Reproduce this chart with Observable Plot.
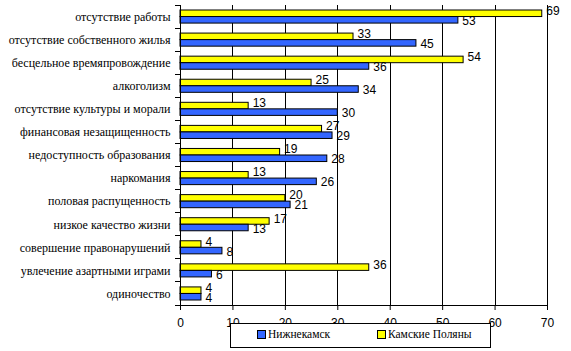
<!DOCTYPE html>
<html><head><meta charset="utf-8">
<script src="https://cdn.jsdelivr.net/npm/d3@7"></script>
<script src="https://cdn.jsdelivr.net/npm/@observablehq/plot@0.6"></script>
<style>
body{margin:0;background:#fff;}
#wrap{position:relative;width:571px;height:351px;overflow:hidden;}
#legend{position:absolute;left:230px;top:323px;width:261px;height:25px;border:1px solid #000;box-sizing:border-box;background:#fff;font:11.5px "Liberation Serif","Times New Roman",serif;color:#000;}
#legend .item{position:absolute;top:4px;display:flex;align-items:center;}
#legend .sw{width:7px;height:7px;border:1px solid #000;margin-right:2px;}
</style></head><body><div id="wrap"></div>
<script>
const categories = [
  "отсутствие работы",
  "отсутствие собственного жилья",
  "бесцельное времяпровождение",
  "алкоголизм",
  "отсутствие культуры и морали",
  "финансовая незащищенность",
  "недоступность образования",
  "наркомания",
  "половая распущенность",
  "низкое качество жизни",
  "совершение правонарушений",
  "увлечение азартными играми",
  "одиночество"
];
const nizhnekamsk = [53, 45, 36, 34, 30, 29, 28, 26, 21, 13, 8, 6, 4];
const kamskiePolyany = [69, 33, 54, 25, 13, 27, 19, 13, 20, 17, 4, 36, 4];
const seriesNames = ["Нижнекамск", "Камские Поляны"];
const seriesColors = ["#3366ff", "#ffff00"];
const xTicks = [0, 10, 20, 30, 40, 50, 60, 70];

const rows = categories.map((c, i) => ({category: c, nizh: nizhnekamsk[i], kam: kamskiePolyany[i]}));

const W = 571, H = 330, mT = 5, mB = 25, mL = 180, mR = 24;
const bw = (H - mT - mB) / categories.length;
const numFont = "'Liberation Sans',Arial,sans-serif";
const serifFont = "'Liberation Serif','Times New Roman',serif";

function axesLines(index, scales, values, dims) {
  const x = scales.x, y = scales.y;
  const step = y(categories[1]) - y(categories[0]);
  const top = y(categories[0]);
  const x0 = x(0);
  const g = d3.create("svg:g").attr("stroke", "#000").attr("stroke-width", 1).attr("shape-rendering", "crispEdges");
  const bottom = top + step * categories.length;
  g.append("line").attr("x1", x0).attr("x2", x0).attr("y1", top).attr("y2", bottom);
  g.append("line").attr("x1", x0).attr("x2", x(xTicks[xTicks.length - 1])).attr("y1", bottom).attr("y2", bottom);
  for (let i = 0; i <= categories.length; i++) {
    const yy = top + i * step;
    g.append("line").attr("x1", x0 - 5).attr("x2", x0).attr("y1", yy).attr("y2", yy);
  }
  return g.node();
}

const chart = Plot.plot({
  width: W, height: H,
  marginTop: mT, marginBottom: mB, marginLeft: mL, marginRight: mR,
  x: {domain: [0, 70], axis: null},
  y: {domain: categories, padding: 0, axis: null, round: false},
  style: {background: "#fff", overflow: "visible"},
  marks: [
    Plot.ruleX(xTicks.slice(1), {stroke: "#000", strokeWidth: 1, shapeRendering: "crispEdges"}),
    Plot.axisX({ticks: xTicks, tickSize: 5, tickPadding: 8, fontSize: 12, fontFamily: numFont, stroke: "#000", color: "#000"}),
    Plot.barX(rows, {x: "kam", y: "category", fill: seriesColors[1], stroke: "#000", strokeWidth: 1, insetTop: 5, insetBottom: bw / 2}),
    Plot.barX(rows, {x: "nizh", y: "category", fill: seriesColors[0], stroke: "#000", strokeWidth: 1, insetTop: bw / 2, insetBottom: 5}),
    axesLines,
    Plot.text(rows, {x: "kam", y: "category", text: d => String(d.kam), dx: 4, dy: -6, textAnchor: "start", fontSize: 12, fontFamily: numFont, fill: "#000"}),
    Plot.text(rows, {x: "nizh", y: "category", text: d => String(d.nizh), dx: 4, dy: 4, textAnchor: "start", fontSize: 12, fontFamily: numFont, fill: "#000"}),
    Plot.text(categories, {y: d => d, frameAnchor: "left", dx: -10, textAnchor: "end", fontSize: 12, fontFamily: serifFont, fill: "#000"})
  ]
});

const wrap = document.getElementById("wrap");
wrap.appendChild(chart);
const legend = document.createElement("div");
legend.id = "legend";
const lefts = [26, 146];
seriesNames.forEach((name, i) => {
  const it = document.createElement("div");
  it.className = "item";
  it.style.left = lefts[i] + "px";
  const sw = document.createElement("span");
  sw.className = "sw";
  sw.style.background = seriesColors[i];
  const t = document.createElement("span");
  t.textContent = name;
  it.appendChild(sw); it.appendChild(t);
  legend.appendChild(it);
});
wrap.appendChild(legend);
</script>
</body></html>
